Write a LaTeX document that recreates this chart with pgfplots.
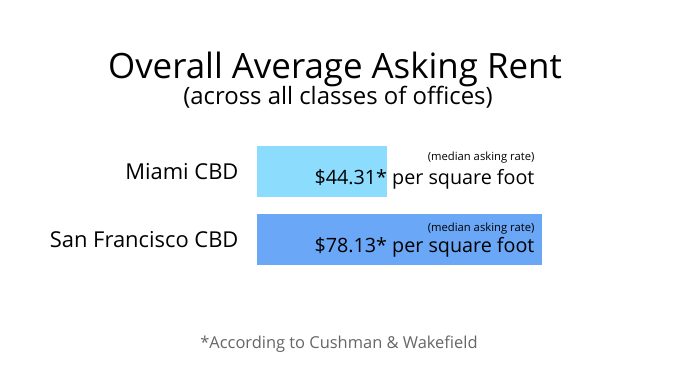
\documentclass[border=0pt]{standalone}
\usepackage{pgfplots}
\pgfplotsset{compat=1.18}
\usepackage{fontspec}
\setmainfont{Open Sans}
\definecolor{miami}{HTML}{8CDCFE}
\definecolor{sf}{HTML}{6AA7F6}
\definecolor{foot}{HTML}{666666}
\begin{document}
\begin{tikzpicture}[x=1bp,y=1bp]
\path[fill=white] (0,0) rectangle (677,378);
\node[anchor=base,font=\fontsize{35}{40}\selectfont] at (335,300) {Overall Average Asking Rent};
\node[anchor=base,font=\fontsize{24}{28}\selectfont] at (338,274) {(across all classes of offices)};
\node[anchor=base,font=\fontsize{16.5}{19}\selectfont,text=foot] at (339,30) {*According to Cushman \& Wakefield};
\begin{axis}[
  at={(257bp,104.5bp)}, anchor=south west,
  scale only axis, width=339.1bp, height=136bp,
  xmin=16, xmax=90, ymin=-0.5, ymax=1.5,
  xbar, bar width=51bp, bar shift=0pt,
  axis line style={draw=none}, xtick=\empty,
  ytick={0,1}, yticklabels={San Francisco CBD, Miami CBD},
  major tick length=0pt,
  yticklabel style={font=\fontsize{22}{26}\selectfont, xshift=-15bp},
  clip=false,
]
\addplot[fill=miami, draw=none] coordinates {(44.31,1)};
\addplot[fill=sf, draw=none] coordinates {(78.13,0)};
\node[anchor=base east,font=\fontsize{19.8}{23}\selectfont] at (axis cs:77.3,0.816) {\$44.31* per square foot};
\node[anchor=base east,font=\fontsize{11.3}{13}\selectfont] at (axis cs:77.3,1.16) {(median asking rate)};
\node[anchor=base east,font=\fontsize{19.8}{23}\selectfont] at (axis cs:77.3,-0.194) {\$78.13* per square foot};
\node[anchor=base east,font=\fontsize{11.3}{13}\selectfont] at (axis cs:77.3,0.125) {(median asking rate)};
\end{axis}
\end{tikzpicture}
\end{document}
